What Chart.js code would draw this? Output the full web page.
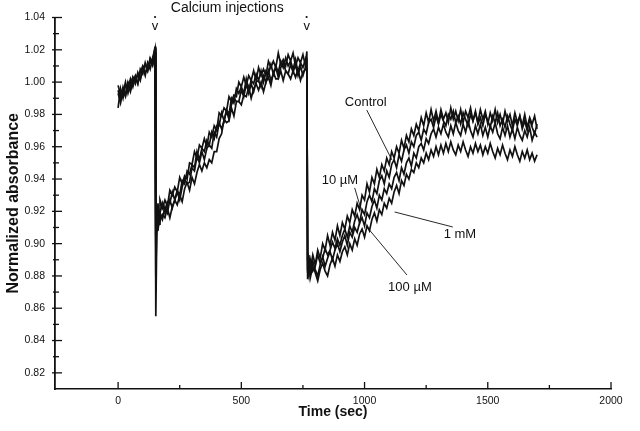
<!DOCTYPE html>
<html>
<head>
<meta charset="utf-8">
<script src="https://cdn.jsdelivr.net/npm/chart.js@4"></script>
<style>
  body { margin: 0; background: #fff; }
  #wrap { width: 640px; height: 431px; }
</style>
</head>
<body>
<div id="wrap"><canvas id="absChart" width="640" height="431"></canvas></div>
<script>
// sample times (sec), shared by all four traces
const times = [
  0,10,20,30,40,50,60,70,80,90,100,110,120,130,140,150,
  153,157,162,166,
  170,180,190,200,210,220,230,240,250,260,
  270,280,290,300,310,320,330,340,350,360,
  370,380,390,400,410,420,430,440,450,460,
  470,480,490,500,510,520,530,540,550,560,
  570,580,590,600,610,620,630,640,650,660,
  670,680,690,700,710,720,730,740,750,760,
  766,769,774,
  780,790,800,810,820,830,840,850,860,870,
  880,890,900,910,920,930,940,950,960,970,
  980,990,1000,1010,1020,1030,1040,1050,1060,1070,
  1080,1090,1100,1110,1120,1130,1140,1150,1160,1170,
  1180,1190,1200,1210,1220,1230,1240,1250,1260,1270,
  1280,1290,1300,1310,1320,1330,1340,1350,1360,1370,
  1380,1390,1400,1410,1420,1430,1440,1450,1460,1470,
  1480,1490,1500,1510,1520,1530,1540,1550,1560,1570,
  1580,1590,1600,1610,1620,1630,1640,1650,1660,1670,
  1680,1690,1700
];

const control = [
  0.995,0.989,0.997,0.992,1.000,0.996,1.003,0.999,1.006,1.002,1.009,1.004,1.012,1.008,1.015,1.021,
  0.855,0.905,0.918,0.912,
  0.927,0.922,0.927,0.923,0.933,0.930,0.935,0.932,0.941,0.937,
  0.942,0.940,0.950,0.949,0.957,0.953,0.961,0.959,0.965,0.960,
  0.969,0.966,0.973,0.970,0.981,0.979,0.984,0.982,0.991,0.988,
  0.992,0.991,1.000,0.997,1.003,0.998,1.004,1.001,1.007,1.001,
  1.009,1.004,1.008,1.004,1.013,1.009,1.013,1.009,1.018,1.011,
  1.014,1.010,1.017,1.013,1.018,1.010,1.015,1.012,1.017,1.010,
  1.019,0.878,0.890,
  0.884,0.893,0.887,0.896,0.891,0.900,0.896,0.905,0.899,0.907,
  0.902,0.911,0.905,0.913,0.909,0.917,0.913,0.921,0.917,0.925,
  0.921,0.930,0.927,0.937,0.932,0.941,0.937,0.946,0.941,0.949,
  0.945,0.953,0.949,0.957,0.953,0.960,0.956,0.964,0.959,0.967,
  0.963,0.971,0.967,0.974,0.970,0.978,0.973,0.981,0.975,0.983,
  0.976,0.982,0.975,0.983,0.977,0.981,0.975,0.984,0.977,0.982,
  0.976,0.983,0.975,0.982,0.978,0.984,0.976,0.981,0.975,0.983,
  0.977,0.982,0.974,0.981,0.976,0.983,0.975,0.980,0.974,0.982,
  0.976,0.980,0.973,0.981,0.975,0.979,0.973,0.980,0.972,0.978,
  0.974,0.979,0.971
];

const tenMicro = [
  0.984,0.996,0.990,0.998,0.996,1.002,0.997,1.003,0.999,1.008,1.005,1.012,1.007,1.013,1.010,1.018,
  0.880,0.912,0.910,0.920,
  0.919,0.925,0.919,0.926,0.925,0.932,0.927,0.933,0.930,0.939,
  0.937,0.945,0.943,0.949,0.947,0.957,0.952,0.959,0.957,0.964,
  0.961,0.969,0.965,0.973,0.973,0.981,0.976,0.983,0.980,0.990,
  0.987,0.996,0.993,0.997,0.993,1.002,0.995,1.001,0.999,1.005,
  1.001,1.007,1.000,1.007,1.005,1.011,1.005,1.010,1.006,1.013,
  1.009,1.015,1.010,1.013,1.008,1.014,1.006,1.012,1.009,1.014,
  1.006,0.884,0.880,
  0.890,0.883,0.886,0.893,0.888,0.891,0.897,0.893,0.896,0.901,
  0.897,0.903,0.899,0.905,0.909,0.904,0.911,0.907,0.914,0.918,
  0.913,0.921,0.918,0.926,0.930,0.926,0.934,0.931,0.939,0.942,
  0.937,0.945,0.941,0.949,0.952,0.947,0.955,0.951,0.958,0.961,
  0.956,0.963,0.960,0.967,0.969,0.964,0.971,0.968,0.975,0.977,
  0.972,0.979,0.974,0.980,0.976,0.973,0.980,0.977,0.982,0.975,
  0.979,0.974,0.981,0.977,0.973,0.980,0.976,0.982,0.974,0.978,
  0.973,0.980,0.976,0.972,0.979,0.975,0.981,0.973,0.977,0.972,
  0.979,0.974,0.970,0.977,0.973,0.979,0.971,0.976,0.970,0.977,
  0.972,0.968,0.974
];

const hundredMicro = [
  0.993,0.987,0.995,0.991,0.999,0.994,1.000,1.004,0.999,1.006,1.010,1.006,1.008,1.014,1.011,1.019,
  0.900,0.922,0.908,0.915,
  0.919,0.915,0.923,0.919,0.927,0.922,0.927,0.932,0.927,0.935,
  0.940,0.937,0.938,0.947,0.945,0.954,0.950,0.957,0.952,0.959,
  0.961,0.959,0.969,0.966,0.975,0.971,0.976,0.982,0.977,0.986,
  0.990,0.988,0.988,0.995,0.991,0.999,0.993,0.999,0.994,1.000,
  1.001,0.997,1.004,1.000,1.007,1.001,1.005,1.009,1.003,1.009,
  1.012,1.007,1.005,1.011,1.006,1.011,1.004,1.010,1.004,1.009,
  1.008,0.890,0.886,
  0.881,0.889,0.884,0.880,0.887,0.892,0.886,0.891,0.895,0.890,
  0.896,0.900,0.895,0.901,0.905,0.899,0.907,0.904,0.910,0.907,
  0.913,0.916,0.911,0.919,0.916,0.923,0.927,0.922,0.930,0.927,
  0.934,0.931,0.937,0.934,0.941,0.944,0.939,0.947,0.943,0.950,
  0.953,0.948,0.956,0.953,0.960,0.962,0.958,0.965,0.962,0.968,
  0.971,0.966,0.972,0.968,0.974,0.969,0.966,0.973,0.968,0.975,
  0.970,0.967,0.974,0.969,0.976,0.970,0.966,0.973,0.968,0.974,
  0.967,0.972,0.966,0.973,0.969,0.975,0.968,0.965,0.972,0.967,
  0.973,0.966,0.971,0.965,0.972,0.967,0.964,0.970,0.966,0.972,
  0.964,0.969,0.966
];

const oneMilli = [
  0.998,0.992,0.993,1.000,0.993,0.999,1.003,1.000,1.005,1.001,1.008,1.011,1.007,1.015,1.012,1.022,
  0.905,0.915,0.925,0.912,
  0.912,0.918,0.916,0.922,0.916,0.923,0.927,0.924,0.930,0.926,
  0.934,0.938,0.933,0.941,0.937,0.944,0.949,0.945,0.950,0.947,
  0.952,0.950,0.957,0.957,0.965,0.968,0.977,0.975,0.976,0.984,
  0.979,0.988,0.988,0.986,0.992,0.991,0.997,0.990,0.996,0.999,
  0.995,1.000,0.994,1.000,1.003,0.998,1.006,1.002,1.002,1.007,
  1.001,1.007,1.005,1.002,1.007,1.003,1.008,1.001,1.006,1.008,
  1.015,0.882,0.893,
  0.879,0.886,0.882,0.877,0.884,0.888,0.883,0.880,0.887,0.891,
  0.886,0.893,0.889,0.895,0.898,0.893,0.900,0.896,0.903,0.899,
  0.906,0.909,0.904,0.911,0.908,0.915,0.919,0.914,0.921,0.918,
  0.925,0.922,0.928,0.925,0.932,0.936,0.931,0.939,0.936,0.943,
  0.940,0.946,0.944,0.950,0.947,0.953,0.950,0.956,0.952,0.958,
  0.954,0.960,0.955,0.961,0.956,0.962,0.957,0.963,0.958,0.955,
  0.961,0.957,0.963,0.958,0.954,0.960,0.956,0.962,0.957,0.961,
  0.955,0.960,0.956,0.962,0.957,0.953,0.959,0.955,0.961,0.956,
  0.952,0.958,0.954,0.960,0.955,0.951,0.957,0.953,0.958,0.952,
  0.956,0.951,0.955
];

const injectionTimes = [150, 765];
// tick positions (minor + major) and the ones that carry a label
const xTickValues = [0, 250, 500, 750, 1000, 1250, 1500, 1750, 2000];
const xTickLabels = [0, 500, 1000, 1500, 2000];
const yTickValues = [0.82, 0.83, 0.84, 0.85, 0.86, 0.87, 0.88, 0.89, 0.90, 0.91, 0.92, 0.93,
                     0.94, 0.95, 0.96, 0.97, 0.98, 0.99, 1.00, 1.01, 1.02, 1.03, 1.04];
const yTickLabels = [0.82, 0.84, 0.86, 0.88, 0.90, 0.92, 0.94, 0.96, 0.98, 1.00, 1.02, 1.04];

// curve labels with leader lines, in data units (time, absorbance)
const curveNotes = [
  { text: 'Control', at: [1005, 0.9877], from: [1009, 0.9827], to: [1111, 0.9518] },
  { text: '10 µM',  at: [900, 0.9394],  from: [960, 0.9345],  to: [989, 0.9196] },
  { text: '1 mM',    at: [1387, 0.9054], from: [1358, 0.9103], to: [1122, 0.9196] },
  { text: '100 µM', at: [1184, 0.8726], from: [1172, 0.8806], to: [1013, 0.9097] }
];

const ink = '#111';
const fontFamily = '"Liberation Sans", Arial, Helvetica, sans-serif';
Chart.defaults.font.family = fontFamily;

const isYLabel = v => yTickLabels.some(l => Math.abs(l - v) < 1e-6);
const isXLabel = v => xTickLabels.some(l => Math.abs(l - v) < 1e-6);

const series = [
  { name: 'Control', values: control },
  { name: '10 µM', values: tenMicro },
  { name: '100 µM', values: hundredMicro },
  { name: '1 mM', values: oneMilli }
];

// inward ticks, injection marks and curve labels
const figureMarks = {
  id: 'figureMarks',
  afterDraw(chart) {
    const { ctx, chartArea: area, scales: { x, y } } = chart;
    ctx.save();
    ctx.strokeStyle = ink;
    ctx.fillStyle = ink;
    ctx.lineWidth = 1.3;

    x.ticks.forEach(tk => {
      const px = x.getPixelForValue(tk.value);
      const len = isXLabel(tk.value) ? 7 : 4;
      ctx.beginPath();
      ctx.moveTo(px, area.bottom);
      ctx.lineTo(px, area.bottom - len);
      ctx.stroke();
    });
    y.ticks.forEach(tk => {
      const py = y.getPixelForValue(tk.value);
      const major = isYLabel(tk.value);
      ctx.beginPath();
      ctx.moveTo(area.left - (major ? 3 : 2), py);
      ctx.lineTo(area.left + (major ? 7 : 4), py);
      ctx.stroke();
    });

    ctx.textAlign = 'center';
    ctx.textBaseline = 'middle';
    ctx.font = '14px ' + fontFamily;
    ctx.fillText('Calcium injections', x.getPixelForValue(443), area.top - 9);

    injectionTimes.forEach(t => {
      const px = x.getPixelForValue(t);
      ctx.font = '13px ' + fontFamily;
      ctx.fillText('v', px, area.top + 8.5);
      ctx.beginPath();
      ctx.arc(px, area.top - 0.5, 1.1, 0, Math.PI * 2);
      ctx.fill();
    });

    ctx.font = '13px ' + fontFamily;
    ctx.lineWidth = 0.9;
    curveNotes.forEach(n => {
      ctx.beginPath();
      ctx.moveTo(x.getPixelForValue(n.from[0]), y.getPixelForValue(n.from[1]));
      ctx.lineTo(x.getPixelForValue(n.to[0]), y.getPixelForValue(n.to[1]));
      ctx.stroke();
      ctx.fillText(n.text, x.getPixelForValue(n.at[0]), y.getPixelForValue(n.at[1]));
    });
    ctx.restore();
  }
};

new Chart(document.getElementById('absChart'), {
  type: 'line',
  data: {
    datasets: series.map(s => ({
      label: s.name,
      data: times.map((t, i) => ({ x: t, y: s.values[i] })),
      borderColor: ink,
      borderWidth: 1.7,
      pointRadius: 0,
      tension: 0,
      fill: false
    }))
  },
  options: {
    responsive: false,
    animation: false,
    events: [],
    layout: { padding: { top: 17.5, right: 29, bottom: 0, left: 0 } },
    plugins: {
      legend: { display: false },
      tooltip: { enabled: false }
    },
    scales: {
      x: {
        type: 'linear',
        min: -256,
        max: 2000,
        afterFit: s => { s.height = 42; },
        afterBuildTicks: s => { s.ticks = xTickValues.map(v => ({ value: v })); },
        grid: { display: false, drawTicks: false },
        border: { display: true, color: ink, width: 1.6 },
        ticks: {
          autoSkip: false,
          maxRotation: 0,
          padding: 6,
          color: '#111',
          font: { size: 10.5 },
          callback: v => isXLabel(v) ? String(v) : ''
        },
        title: {
          display: true,
          text: 'Time (sec)',
          color: ink,
          font: { size: 14, weight: 'bold' },
          padding: { top: 0, bottom: 10 }
        }
      },
      y: {
        min: 0.81,
        max: 1.04,
        afterFit: s => { s.width = 55; },
        afterBuildTicks: s => { s.ticks = yTickValues.map(v => ({ value: v })); },
        grid: { display: false, drawTicks: false },
        border: { display: true, color: ink, width: 1.8 },
        ticks: {
          autoSkip: false,
          padding: 10,
          color: '#111',
          font: { size: 10.5 },
          callback: v => isYLabel(v) ? v.toFixed(2) : ''
        },
        title: {
          display: true,
          text: 'Normalized absorbance',
          color: ink,
          font: { size: 16, weight: 'bold' },
          padding: { top: 4, bottom: 0 }
        }
      }
    }
  },
  plugins: [figureMarks]
});
</script>
</body>
</html>
